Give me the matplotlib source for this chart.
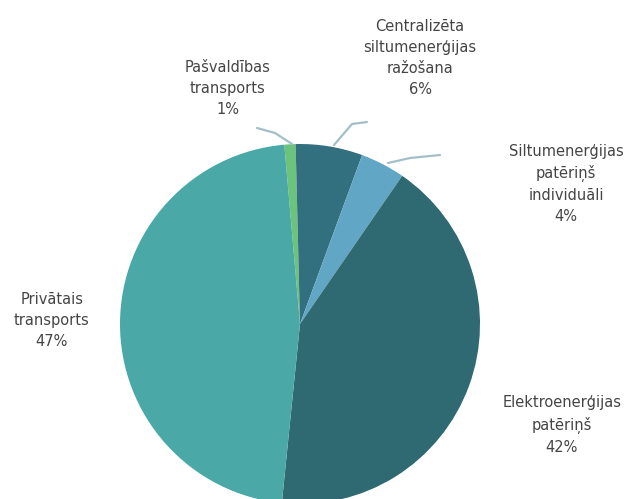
import matplotlib.pyplot as plt

# Slices, clockwise from 12 o'clock
labels = ['Pašvaldības\ntransports', 'Centralizēta\nsiltumenerģijas\nražošana',
          'Siltumenerģijas\npatēriņš\nindividuāli', 'Elektroenerģijas\npatēriņš',
          'Privātais\ntransports']
shares = [1, 6, 4, 42, 47]
colors = ['#6cc47c', '#33707f', '#62a6c6', '#2f6a72', '#4aa9a6']

# label anchor points in pixel coordinates (x, y from top)
label_pos = [(228, 88), (420, 58), (566, 184), (562, 425), (52, 320)]
# leader lines as pixel polylines, label side first
leaders = [[(257, 128), (275, 133), (292, 144)],
           [(367, 122), (352, 124), (334, 145)],
           [(440, 155), (410, 158), (388, 163)]]

W, H = 632, 499
fig = plt.figure(figsize=(W / 100, H / 100), dpi=100)
ax = fig.add_axes([0, 0, 1, 1])


def py(y):
    return H - y


ax.pie(shares, colors=colors, startangle=95, counterclock=False,
       center=(300, py(324)), radius=180,
       wedgeprops=dict(linewidth=0))
ax.set_xlim(0, W)
ax.set_ylim(0, H)
ax.set_aspect('equal')
ax.axis('off')

for lab, s, (x, y) in zip(labels, shares, label_pos):
    ax.text(x, py(y), f'{lab}\n{s}%', ha='center', va='center',
            fontsize=10.5, color='#454545', linespacing=1.5,
            family='DejaVu Sans')

for pts in leaders:
    ax.plot([p[0] for p in pts], [py(p[1]) for p in pts], color='#a3c0c8',
            lw=1.6, solid_capstyle='round', solid_joinstyle='round')

fig.savefig('out.png', dpi=100)
